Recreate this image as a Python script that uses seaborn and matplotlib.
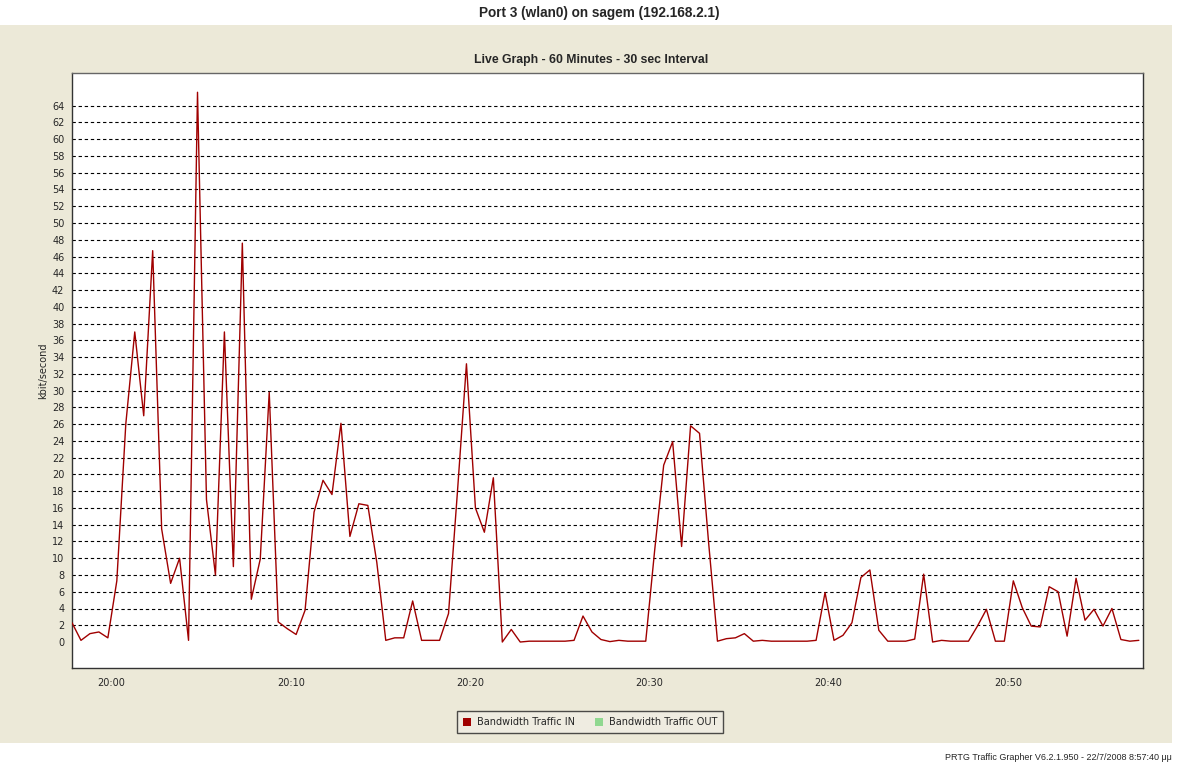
import numpy as np
import pandas as pd
import matplotlib
matplotlib.use("Agg")
import matplotlib.pyplot as plt
import matplotlib.dates as mdates
from matplotlib.patches import Rectangle, Patch
from matplotlib.ticker import MultipleLocator
import seaborn as sns

# ---------------- data ----------------
title = "Port 3 (wlan0) on sagem (192.168.2.1)"
subtitle = "Live Graph - 60 Minutes - 30 sec Interval"
footer = "PRTG Traffic Grapher V6.2.1.950 - 22/7/2008 8:57:40 μμ"
y_label = "kbit/second"
series_names = ["Bandwidth Traffic IN", "Bandwidth Traffic OUT"]
series_colors = ["#a00000", "#90d890"]

start_time = "2008-07-22 19:57:48"
interval = "30s"
traffic_in = [
    2.3, 0.2, 1.0, 1.2, 0.5, 7.3, 26.0, 37.0, 27.0, 46.7,
    13.5, 7.0, 10.0, 0.2, 65.6, 17.0, 8.0, 37.0, 9.0, 47.6,
    5.1, 9.9, 29.8, 2.4, 1.6, 0.9, 3.8, 15.5, 19.3, 17.6,
    26.1, 12.6, 16.5, 16.3, 9.5, 0.2, 0.5, 0.5, 4.9, 0.2,
    0.2, 0.2, 3.4, 18.0, 33.2, 16.0, 13.1, 19.6, 0.0, 1.5,
    0.0, 0.1, 0.1, 0.1, 0.1, 0.1, 0.2, 3.1, 1.2, 0.3,
    0.05, 0.2, 0.1, 0.1, 0.1, 11.0, 21.1, 23.9, 11.4, 25.8,
    24.9, 12.0, 0.1, 0.4, 0.5, 1.0, 0.1, 0.2, 0.1, 0.1,
    0.1, 0.1, 0.1, 0.2, 5.9, 0.2, 0.8, 2.3, 7.7, 8.6,
    1.4, 0.1, 0.1, 0.1, 0.35, 8.1, 0.0, 0.2, 0.1, 0.1,
    0.1, 1.9, 3.9, 0.1, 0.1, 7.3, 4.1, 1.9, 1.8, 6.6,
    6.0, 0.7, 7.6, 2.6, 3.9, 1.9, 4.0, 0.3, 0.1, 0.2,
]
y_ticks = list(range(0, 65, 2))
x_start = "2008-07-22 19:57:48"
x_end = "2008-07-22 20:57:32"

times = pd.date_range(start_time, periods=len(traffic_in), freq=interval)
df = pd.DataFrame({"time": times, "kbit": traffic_in})

# ---------------- figure ----------------
sns.set_style("white")
plt.rcParams["font.family"] = ["DejaVu Sans"]

W, H = 1179, 767
fig = plt.figure(figsize=(W / 100, H / 100), dpi=100, facecolor="white")

beige = "#ece9d8"
fig.patches.append(Rectangle((0, 1 - 743 / H), 1172 / W, (743 - 25) / H,
                             transform=fig.transFigure, facecolor=beige,
                             edgecolor="none", zorder=-10))

fig.text(599 / W, 1 - 13 / H, title, ha="center", va="center",
         fontsize=9.8, fontweight="bold", family="Liberation Sans")
fig.text(591.5 / W, 1 - 60 / H, subtitle, ha="center", va="center",
         fontsize=8.8, fontweight="bold", family="Liberation Sans")
fig.text(1172 / W, 1 - 757 / H, footer, ha="right", va="center",
         fontsize=6.5, family="Liberation Sans")

ax = fig.add_axes([72 / W, 1 - 668 / H, (1143 - 72) / W, (668 - 73) / H])
ax.set_zorder(5)
ax.set_facecolor("white")

sns.lineplot(data=df, x="time", y="kbit", ax=ax, color=series_colors[0],
             linewidth=1.0, legend=False, zorder=3)

ax.set_xlim(pd.Timestamp(x_start), pd.Timestamp(x_end))
ax.set_ylim(-3.1, 67.9)
ax.set_yticks(y_ticks)
ax.yaxis.set_minor_locator(MultipleLocator(0.5))
ax.xaxis.set_major_locator(mdates.MinuteLocator(byminute=[0, 10, 20, 30, 40, 50]))
ax.xaxis.set_minor_locator(mdates.MinuteLocator(byminute=[5, 15, 25, 35, 45, 55]))
ax.xaxis.set_major_formatter(mdates.DateFormatter("%H:%M"))

ax.tick_params(axis="both", which="major", direction="out", length=4,
               width=0.8, color="#555555", labelsize=7, pad=1.5)
ax.tick_params(axis="y", which="minor", direction="out", length=2,
               width=0.6, color="#888888")
ax.tick_params(axis="x", which="minor", direction="out", length=4,
               width=0.8, color="#555555")
ax.tick_params(axis="x", which="major", pad=3.5)

ax.yaxis.grid(True, which="major", color="black", linestyle=(0, (3, 2.5)),
              linewidth=0.8)
ax.xaxis.grid(False)
ax.set_axisbelow(True)
for gl, t in zip(ax.yaxis.get_gridlines(), y_ticks):
    if t == 0:
        gl.set_visible(False)

ax.set_xlabel("")
ax.set_ylabel(y_label, fontsize=7)
ax.yaxis.set_label_coords(-24 / (1143 - 72), 0.5)

for side in ["left", "bottom", "right", "top"]:
    ax.spines[side].set_visible(True)
    ax.spines[side].set_color("#333333")
    ax.spines[side].set_linewidth(1.0)
ax.spines["top"].set_color("#666666")

handles = [Patch(facecolor=c, edgecolor="none") for c in series_colors]
leg = fig.legend(handles, series_names, loc="center", ncol=2,
                 bbox_to_anchor=(590 / W, 1 - 722 / H), frameon=True,
                 fancybox=False, fontsize=7, handlelength=0.9,
                 handleheight=0.9, handletextpad=0.6, columnspacing=2.0,
                 borderpad=0.6)
leg.get_frame().set_facecolor("#f0eee4")
leg.get_frame().set_edgecolor("#222222")
leg.get_frame().set_linewidth(1.0)

fig.savefig("out.png", dpi=100, facecolor="white")
